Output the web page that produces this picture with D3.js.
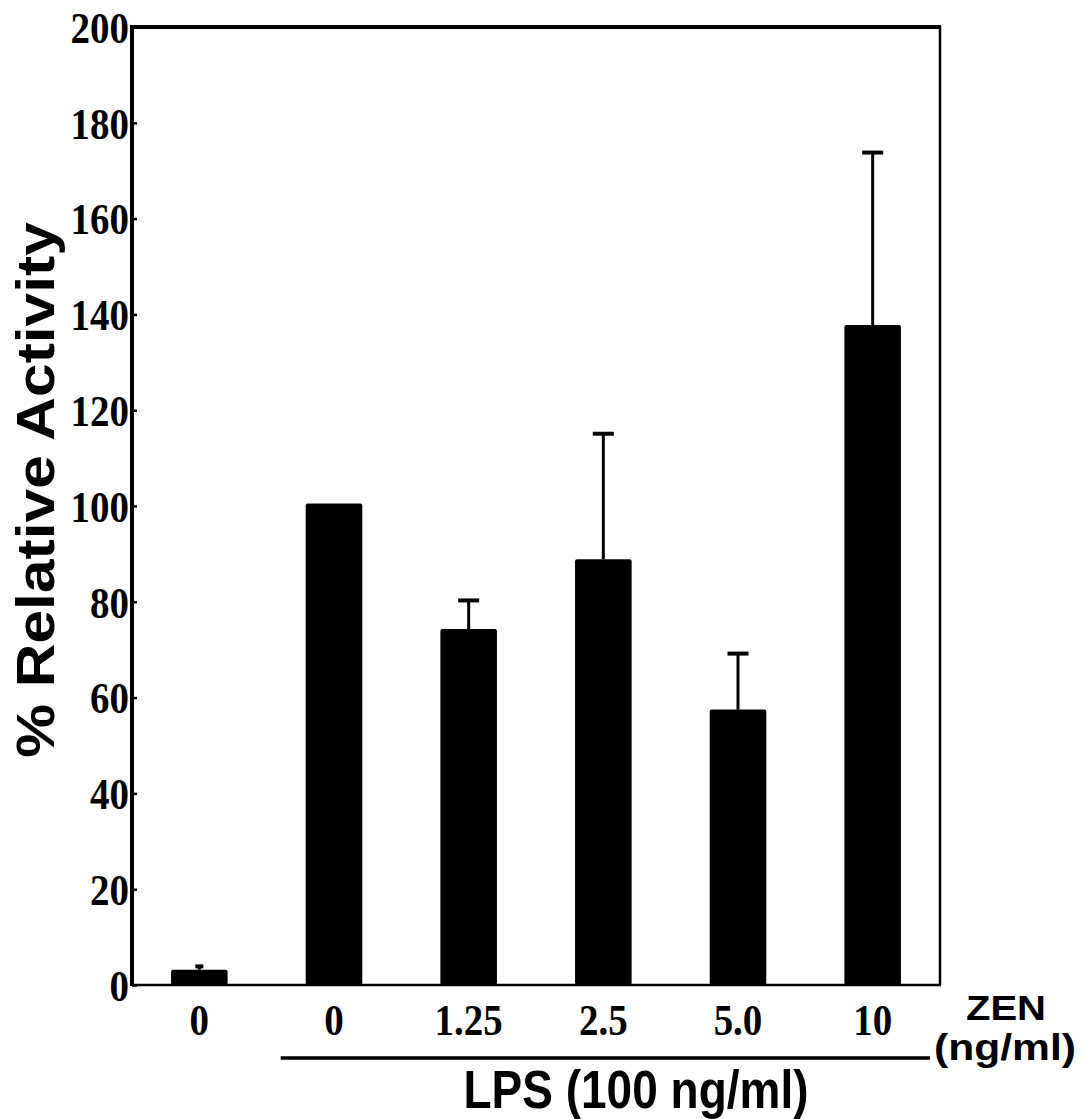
<!DOCTYPE html>
<html>
<head>
<meta charset="utf-8">
<script src="https://cdn.jsdelivr.net/npm/d3@7/dist/d3.min.js"></script>
<style>
  html, body { margin: 0; padding: 0; background: #fff; }
  svg { display: block; }
</style>
</head>
<body>
<svg id="chart" width="1085" height="1119"></svg>
<script>
// ---- data ----
const categories = ["0", "0 ", "1.25", "2.5", "5.0", "10"];
const values = [3.2, 100.5, 74.3, 88.9, 57.5, 137.8];
const errUpper = [4.2, null, 80.6, 115.4, 69.5, 174.1];
const yTicks = [0, 20, 40, 60, 80, 100, 120, 140, 160, 180, 200];
const yTitle = "% Relative Activity";
const lpsLabel = "LPS (100 ng/ml)";
const zenLabel = ["ZEN", "(ng/ml)"];

// ---- layout ----
const pLeft = 132, pRight = 940, pTop = 27, pBottom = 985;
const serif = "'Liberation Serif', 'Times New Roman', serif";
const sans = "'Liberation Sans', Arial, sans-serif";
const svg = d3.select("#chart");

const x = d3.scaleBand().domain(categories).range([pLeft, pRight])
  .paddingInner(0.58).paddingOuter(0.29);
const y = d3.scaleLinear().domain([0, 200]).range([pBottom, pTop]);

// bars
svg.append("g").selectAll("rect").data(values).join("rect")
  .attr("x", (d, i) => x(categories[i]))
  .attr("y", d => y(d))
  .attr("width", x.bandwidth())
  .attr("height", d => y(0) - y(d))
  .attr("rx", 2)
  .attr("fill", "#000");

// error bars (upper only)
const eg = svg.append("g").attr("stroke", "#000");
errUpper.forEach((e, i) => {
  if (e == null) return;
  const cx = x(categories[i]) + x.bandwidth() / 2;
  eg.append("line").attr("x1", cx).attr("x2", cx)
    .attr("y1", y(values[i])).attr("y2", y(e)).attr("stroke-width", 3);
  const cw = i === 0 ? 8 : 21;
  eg.append("line").attr("x1", cx - cw / 2).attr("x2", cx + cw / 2)
    .attr("y1", y(e) + 1.5).attr("y2", y(e) + 1.5).attr("stroke-width", 4);
});

// frame
svg.append("line").attr("x1", pLeft).attr("x2", pLeft).attr("y1", pTop - 2).attr("y2", pBottom + 1)
  .attr("stroke", "#000").attr("stroke-width", 4);
svg.append("line").attr("x1", pLeft - 2).attr("x2", pRight + 1).attr("y1", pTop).attr("y2", pTop)
  .attr("stroke", "#000").attr("stroke-width", 4);
svg.append("line").attr("x1", pRight).attr("x2", pRight).attr("y1", pTop - 1).attr("y2", pBottom)
  .attr("stroke", "#000").attr("stroke-width", 2.5);
svg.append("line").attr("x1", pLeft).attr("x2", pRight + 1).attr("y1", pBottom).attr("y2", pBottom)
  .attr("stroke", "#000").attr("stroke-width", 2.5);

// y axis
const yAxis = d3.axisLeft(y).tickValues(yTicks).tickSize(-5).tickPadding(3).tickFormat(d3.format("d"));
const ya = svg.append("g").attr("transform", `translate(${pLeft},0)`).call(yAxis);
ya.select(".domain").remove();
ya.selectAll(".tick line").attr("stroke", "#000").attr("stroke-width", 2.5);
ya.selectAll(".tick text")
  .attr("font-family", serif)
  .attr("font-weight", "bold").attr("font-size", 39).attr("fill", "#000")
  .attr("dy", "0.34em")
  .attr("transform", "scale(1,1.15)");

// x axis labels
const xAxis = d3.axisBottom(x).tickSize(0).tickPadding(0).tickFormat(d => d.trim());
const xa = svg.append("g").attr("transform", `translate(0,${pBottom})`).call(xAxis);
xa.select(".domain").remove();
xa.selectAll(".tick text")
  .attr("font-family", serif)
  .attr("font-weight", "bold").attr("font-size", 39).attr("fill", "#000")
  .attr("y", 0).attr("dy", 0)
  .attr("transform", "translate(0,50) scale(1,1.15)");

// y title
svg.append("text")
  .attr("transform", `translate(54,490) rotate(-90) scale(1.12,1)`)
  .attr("text-anchor", "middle")
  .attr("font-family", sans)
  .attr("font-weight", "bold").attr("font-size", 54)
  .text(yTitle);

// ZEN label
svg.append("text").attr("x", 1006).attr("y", 1020).attr("text-anchor", "middle")
  .attr("font-family", sans).attr("font-weight", "bold").attr("font-size", 35)
  .attr("textLength", 80).attr("lengthAdjust", "spacingAndGlyphs")
  .text(zenLabel[0]);
svg.append("text").attr("x", 1005).attr("y", 1060).attr("text-anchor", "middle")
  .attr("font-family", sans).attr("font-weight", "bold").attr("font-size", 37)
  .attr("textLength", 142).attr("lengthAdjust", "spacingAndGlyphs")
  .text(zenLabel[1]);

// LPS line + label
const lx1 = x(categories[1]) - 25, lx2 = 930;
svg.append("line").attr("x1", lx1).attr("x2", lx2).attr("y1", 1058).attr("y2", 1058)
  .attr("stroke", "#000").attr("stroke-width", 3.5);
svg.append("text")
  .attr("transform", "translate(636,1108) scale(1,1.15)")
  .attr("text-anchor", "middle")
  .attr("font-family", sans).attr("font-weight", "bold").attr("font-size", 46)
  .text(lpsLabel);
</script>
</body>
</html>
